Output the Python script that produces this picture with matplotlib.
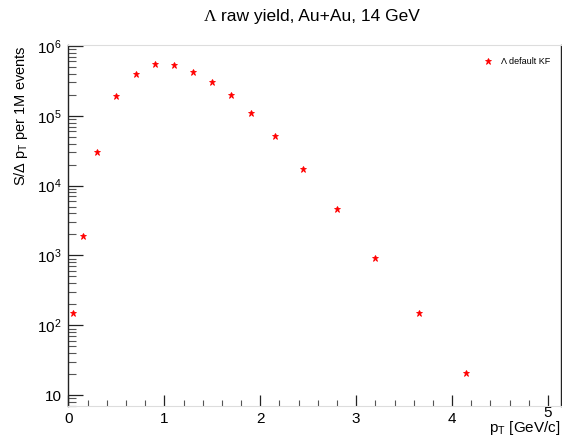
import matplotlib
matplotlib.use("Agg")
import matplotlib.pyplot as plt
import matplotlib.transforms as mtransforms
from matplotlib.ticker import FixedLocator, NullFormatter, MultipleLocator

plt.rcParams['font.family'] = ['Liberation Sans', 'DejaVu Sans']
plt.rcParams['mathtext.fontset'] = 'custom'
plt.rcParams['mathtext.rm'] = 'Liberation Sans'
plt.rcParams['mathtext.it'] = 'Liberation Sans:italic'

# data
pt = [0.05, 0.15, 0.3, 0.5, 0.7, 0.9, 1.1, 1.3, 1.5, 1.7, 1.9,
      2.15, 2.45, 2.8, 3.2, 3.65, 4.15]
yield_ = [152, 1900, 30600, 192000, 401000, 552000, 529000, 428000, 305000,
          197000, 111000, 51400, 17500, 4680, 929, 152, 20.6]
ytick_vals = [10, 1e2, 1e3, 1e4, 1e5, 1e6]
ytick_labels = ['10', '$10^{2}$', '$10^{3}$', '$10^{4}$', '$10^{5}$', '$10^{6}$']
xtick_vals = [0, 1, 2, 3, 4, 5]

fig = plt.figure(figsize=(5.62, 4.45), dpi=100)
ax = fig.add_axes([68.4/562, 1-406/445, (560.5-68.4)/562, (406-45)/445])

ax.plot(pt, yield_, linestyle='none', marker='*', color='red', markersize=5,
        markeredgewidth=0.6, label='Λ default KF')

ax.set_yscale('log')
ax.set_xlim(0, 5.13)
ax.set_ylim(7.0, 1.03e6)

ax.yaxis.set_major_locator(FixedLocator(ytick_vals))
ax.set_yticklabels(ytick_labels)
minors = [m * 10**e for e in range(0, 6) for m in range(2, 10)]
ax.yaxis.set_minor_locator(FixedLocator(minors))
ax.yaxis.set_minor_formatter(NullFormatter())
ax.set_xticks(xtick_vals)
ax.xaxis.set_minor_locator(MultipleLocator(0.2))

ax.tick_params(axis='y', which='major', direction='in', length=11, width=0.9,
               labelsize=11, pad=5, color='#222222')
ax.tick_params(axis='y', which='minor', direction='in', length=6, width=0.8,
               color='#555555')
ax.tick_params(axis='x', which='major', direction='in', length=8, width=0.9,
               labelsize=11, pad=4, color='#222222')
ax.tick_params(axis='x', which='minor', direction='in', length=4, width=0.8,
               color='#555555')

# ROOT lifts the last x label a little
last = ax.get_xticklabels()[-1]
last.set_transform(last.get_transform() +
                   mtransforms.ScaledTranslation(0, 4/72, fig.dpi_scale_trans))

for s in ['left', 'right']:
    ax.spines[s].set_color('#222222')
    ax.spines[s].set_linewidth(1.0)
for s in ['top', 'bottom']:
    ax.spines[s].set_color('#dddddd')
    ax.spines[s].set_linewidth(0.8)

ax.set_xlabel('p$_{\\mathrm{T}}$ [GeV/c]', fontsize=11, ha='right')
ax.xaxis.set_label_coords(1.0, -0.036)
ax.set_ylabel('S/Δ p$_{\\mathrm{T}}$ per 1M events', fontsize=10.5, ha='right')
ax.yaxis.set_label_coords(-0.078, 1.0)

fig.text(216/562, 0.962, 'Λ', fontsize=12.5, family='Liberation Serif',
         ha='right', va='center')
fig.text(221/562, 0.962, 'raw yield, Au+Au, 14 GeV', fontsize=12.5,
         ha='left', va='center')

ax.legend(loc='upper right', bbox_to_anchor=(0.995, 0.99), frameon=False,
          fontsize=6.5, handlelength=1.2, handletextpad=0.8, numpoints=1)

fig.savefig('out.png', dpi=100)
